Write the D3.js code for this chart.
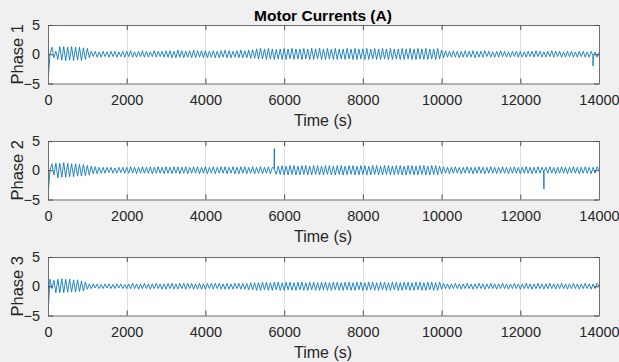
<!DOCTYPE html>
<html><head><meta charset="utf-8">
<script src="https://cdn.jsdelivr.net/npm/d3@7/dist/d3.min.js"></script>
<style>
body{margin:0;background:#f0f0f0;}
text{font-family:"Liberation Sans",Arial,Helvetica,sans-serif;}
</style>
</head><body>
<svg id="c" width="619" height="362"></svg>
<script>
const chartTitle = "Motor Currents (A)";
const xLabel = "Time (s)";
const panelLabels = ["Phase 1", "Phase 2", "Phase 3"];
const xTicks = [0, 2000, 4000, 6000, 8000, 10000, 12000, 14000];
const yTicks = [-5, 0, 5];
const sampleStep = 50; // seconds between samples
// current samples in tenths of an ampere, one every 50 s from t = 0 to 14000
const phase1 = [
-48,0,12,-6,5,-9,13,-10,13,-11,12,-10,13,-11,12,-10,12,-11,11,-9,
10,-6,5,-4,5,-5,4,-5,5,-4,4,-5,5,-4,5,-5,4,-4,5,-5,
5,-4,6,-5,4,-5,5,-4,6,-5,5,-5,4,-4,6,-5,5,-4,5,-5,
6,-5,6,-6,5,-6,7,-5,6,-6,5,-5,6,-6,7,-6,6,-5,6,-6,
6,-6,5,-5,6,-6,5,-6,6,-5,7,-6,6,-6,5,-5,6,-6,7,-6,
6,-6,7,-7,8,-7,9,-8,10,-8,9,-9,10,-8,9,-9,8,-8,9,-9,
10,-9,9,-8,10,-9,9,-8,9,-9,10,-8,9,-9,10,-9,9,-8,10,-9,
9,-9,10,-8,9,-9,10,-9,9,-8,9,-9,10,-8,9,-9,10,-9,9,-8,
9,-9,10,-9,9,-8,10,-9,9,-9,10,-8,9,-9,10,-9,9,-8,9,-9,
10,-9,9,-8,10,-9,9,-9,10,-8,9,-9,10,-9,9,-8,9,-9,10,-8,
7,-6,6,-5,5,-5,6,-5,5,-6,5,-5,6,-5,5,-5,6,-6,5,-5,
5,-5,6,-4,5,-5,4,-5,5,-5,6,-4,5,-5,4,-5,5,-4,5,-5,
5,-5,4,-5,5,-4,5,-5,6,-4,5,-5,4,-5,5,-4,6,-5,5,-4,
5,-5,4,-5,5,-4,5,-5,4,-5,5,-4,5,-5,4,-5,5,-4,4,-5,
3];
const phase2 = [
-45,0,11,-8,12,-13,12,-12,13,-12,12,-11,11,-11,11,-10,10,-10,10,-9,
8,-8,7,-6,6,-6,5,-5,5,-5,5,-4,5,-5,4,-5,5,-4,5,-5,
5,-5,6,-5,5,-6,5,-5,6,-5,5,-5,6,-6,5,-5,6,-5,5,-6,
6,-5,5,-6,6,-5,6,-6,5,-5,6,-6,5,-5,6,-5,6,-6,5,-5,
6,-6,5,-5,6,-6,5,-5,6,-5,6,-6,5,-5,6,-6,5,-6,6,-5,
6,-6,5,-5,6,-6,5,-5,6,-6,5,-5,6,-6,5,0,-7,7,-7,8,
-8,7,-8,8,-7,8,-8,7,-8,8,-7,8,-8,7,-8,8,-7,8,-8,7,
-8,8,-7,8,-8,7,-8,8,-7,8,-8,7,-8,8,-7,8,-8,7,-8,8,
-7,8,-8,7,-8,8,-7,8,-8,7,-8,8,-7,8,-8,7,-8,8,-7,8,
-8,7,-8,8,-7,8,-8,7,-8,8,-7,8,-8,7,-8,8,-7,8,-8,7,
-6,6,-5,5,-6,5,-5,6,-5,5,-6,5,-5,6,-5,5,-6,5,-5,6,
-5,5,-6,5,-5,6,-5,5,-6,5,-5,6,-5,5,-6,5,-5,6,-5,5,
-6,5,-5,6,-5,5,-6,5,-5,6,-5,5,-5,5,-5,6,-5,5,-6,5,
-5,6,-5,5,-6,5,-5,6,-5,5,-6,5,-5,6,-5,5,-6,5,-5,6,
0];
const phase3 = [
-48,12,-4,10,-11,12,-11,13,-11,12,-10,12,-10,11,-10,11,-9,9,-8,7,
-5,4,-4,4,-3,4,-4,3,-4,4,-3,4,-4,3,-4,4,-3,4,-4,3,
-4,4,-4,5,-4,4,-5,4,-4,5,-4,4,-5,4,-4,5,-4,4,-5,4,
-5,5,-4,5,-5,4,-5,5,-4,5,-5,5,-4,5,-5,4,-5,5,-5,4,
-5,5,-4,5,-5,5,-4,5,-5,4,-5,5,-5,4,-5,5,-4,5,-5,5,
-5,5,-6,6,-6,6,-7,6,-7,7,-6,7,-7,6,-7,7,-6,7,-7,6,
-7,7,-6,7,-7,6,-7,7,-6,7,-7,6,-7,7,-6,7,-7,6,-7,7,
-6,7,-7,6,-7,7,-6,7,-7,6,-7,7,-6,7,-7,6,-7,7,-6,7,
-7,6,-7,7,-6,7,-7,6,-7,7,-6,7,-7,6,-7,7,-6,7,-7,6,
-7,7,-6,7,-7,6,-7,7,-6,7,-7,6,-7,7,-6,7,-7,6,-7,7,
-5,5,-4,4,-5,4,-4,5,-4,4,-5,4,-4,5,-4,4,-5,4,-4,5,
-4,4,-5,4,-4,5,-4,4,-5,4,-4,5,-4,4,-5,4,-4,5,-4,4,
-5,4,-4,5,-4,4,-5,4,-4,5,-4,4,-5,4,-4,5,-4,4,-5,4,
-4,5,-4,4,-5,4,-4,5,-4,4,-5,4,-4,5,-4,4,-5,4,-4,5,
0];
// short transient spikes (time in s, value in tenths of an ampere)
const phase1SpikeTimes = [13846, 13850, 13854];
const phase1SpikeValues = [-2, -20, -3];
const phase2SpikeTimes = [5746, 5750, 5754, 12596, 12600, 12604];
const phase2SpikeValues = [3, 37, 1, -3, -32, -2];
const phase3SpikeTimes = [];
const phase3SpikeValues = [];

const phases = [
  [phase1, phase1SpikeTimes, phase1SpikeValues],
  [phase2, phase2SpikeTimes, phase2SpikeValues],
  [phase3, phase3SpikeTimes, phase3SpikeValues]
];

function buildSeries(vals, st, sv) {
  const pts = vals.map((v, i) => ({t: i * sampleStep, v}));
  const spikeTimes = new Set(st);
  const kept = pts.filter(p => !spikeTimes.has(p.t));
  st.forEach((t, i) => kept.push({t, v: sv[i]}));
  kept.sort((a, b) => a.t - b.t);
  return kept;
}

const svg = d3.select("#c");
const W = 619, H = 362;
svg.append("rect").attr("width", W).attr("height", H).attr("fill", "#f0f0f0");

const left = 48, right = 599;
const panelTops = [25, 141, 257];
const panelH = 58.5;
const x = d3.scaleLinear().domain([0, 14000]).range([left, right]);

svg.append("text").attr("x", 323).attr("y", 21).attr("text-anchor", "middle")
  .attr("font-size", 15.5).attr("font-weight", "bold").attr("fill", "#000").text(chartTitle);

phases.forEach(([vals, st, sv], p) => {
  const top = panelTops[p];
  const y = d3.scaleLinear().domain([-5, 5]).range([top + panelH, top]);
  const g = svg.append("g");
  g.append("rect").attr("x", left).attr("y", top).attr("width", right - left).attr("height", panelH)
    .attr("fill", "#fff");
  g.selectAll(".grid").data(xTicks.slice(1, -1)).enter().append("line")
    .attr("x1", d => Math.round(x(d)) + 0.5).attr("x2", d => Math.round(x(d)) + 0.5)
    .attr("y1", top).attr("y2", top + panelH)
    .attr("stroke", "#dedede").attr("stroke-width", 1);
  const clipId = "clip" + p;
  svg.append("clipPath").attr("id", clipId).append("rect")
    .attr("x", left).attr("y", top).attr("width", right - left).attr("height", panelH);
  const series = buildSeries(vals, st, sv);
  const line = d3.line().x(d => x(d.t)).y(d => y(d.v / 10));
  g.append("path").datum(series).attr("d", line).attr("fill", "none")
    .attr("stroke", "#0072BD").attr("stroke-width", 0.85).attr("clip-path", `url(#${clipId})`);
  const xb = g.append("g").attr("transform", `translate(0,${top + panelH})`)
    .call(d3.axisBottom(x).tickValues(xTicks).tickFormat(d3.format("d")).tickSizeInner(-5).tickSizeOuter(0).tickPadding(11));
  const xt = g.append("g").attr("transform", `translate(0,${top})`)
    .call(d3.axisTop(x).tickValues(xTicks).tickFormat("").tickSizeInner(-5).tickSizeOuter(0));
  const yl = g.append("g").attr("transform", `translate(${left},0)`)
    .call(d3.axisLeft(y).tickValues(yTicks).tickFormat(d3.format("d")).tickSizeInner(-5).tickSizeOuter(0).tickPadding(8));
  const yr = g.append("g").attr("transform", `translate(${right},0)`)
    .call(d3.axisRight(y).tickValues(yTicks).tickFormat("").tickSizeInner(-5).tickSizeOuter(0));
  [xb, xt, yl, yr].forEach(a => {
    a.select(".domain").attr("stroke", "#6e6e6e").attr("stroke-width", 1);
    a.selectAll(".tick line").attr("stroke", "#4d4d4d");
    a.selectAll("text").attr("font-size", 14.5).attr("fill", "#262626")
      .attr("font-family", '"Liberation Sans",Arial,sans-serif');
  });
  g.append("text").attr("x", (left + right) / 2 - 0.5).attr("y", top + panelH + 42)
    .attr("text-anchor", "middle").attr("font-size", 16).attr("fill", "#262626").text(xLabel);
  g.append("text").attr("transform", `translate(23,${top + panelH / 2}) rotate(-90)`)
    .attr("text-anchor", "middle").attr("font-size", 16.5).attr("fill", "#262626").text(panelLabels[p]);
});
</script>
</body></html>
